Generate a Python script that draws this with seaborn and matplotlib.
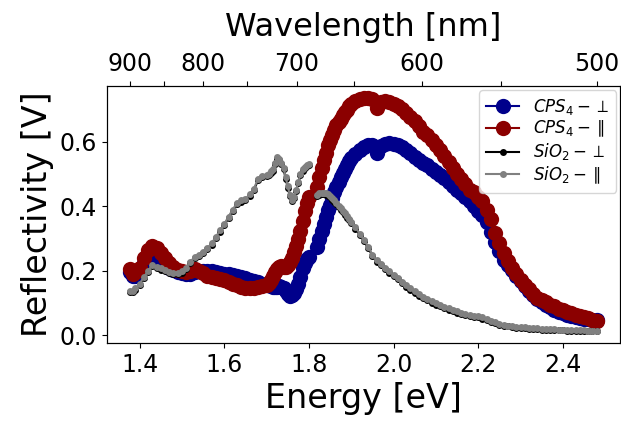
import numpy as np
import pandas as pd
import matplotlib
matplotlib.use("Agg")
import matplotlib.pyplot as plt
import seaborn as sns

# energy grid, split where the detector changes (no data between 1.80 and 1.82 eV)
energy_a = [1.378, 1.385, 1.39,
            1.40, 1.41, 1.42, 1.43, 1.44, 1.45, 1.46, 1.47, 1.48, 1.49,
            1.50, 1.51, 1.52, 1.53, 1.54, 1.55, 1.56, 1.57, 1.58, 1.59,
            1.60, 1.61, 1.62, 1.63, 1.64, 1.65, 1.66, 1.67, 1.68, 1.69, 1.70,
            1.705, 1.71, 1.715, 1.72, 1.725, 1.73, 1.735, 1.74, 1.745, 1.75,
            1.755, 1.76, 1.765, 1.77, 1.775, 1.78, 1.785, 1.79, 1.795, 1.80]
energy_b = [1.82, 1.825, 1.83, 1.835, 1.84, 1.845, 1.85, 1.855, 1.86, 1.865,
            1.87, 1.875, 1.88, 1.885, 1.89, 1.895, 1.90,
            1.91, 1.92, 1.93, 1.94, 1.95, 1.96, 1.97, 1.98, 1.99, 2.00,
            2.01, 2.02, 2.03, 2.04, 2.05, 2.06, 2.07, 2.08, 2.09, 2.10,
            2.11, 2.12, 2.13, 2.14, 2.15, 2.16, 2.17, 2.18, 2.19, 2.20,
            2.21, 2.22, 2.23, 2.24, 2.25, 2.26, 2.27, 2.28, 2.29, 2.30,
            2.31, 2.32, 2.33, 2.34, 2.35, 2.36, 2.37, 2.38, 2.39, 2.40,
            2.41, 2.42, 2.43, 2.44, 2.45, 2.46, 2.47, 2.48]

cps4_perp_a = [0.195, 0.183, 0.185,
               0.2, 0.225, 0.245, 0.255, 0.245, 0.232, 0.22, 0.21, 0.203, 0.196,
               0.192, 0.19, 0.19, 0.195, 0.2, 0.2, 0.198, 0.198, 0.195, 0.192,
               0.19, 0.19, 0.188, 0.185, 0.18, 0.176, 0.172, 0.168, 0.164, 0.16, 0.157,
               0.155, 0.152, 0.148, 0.148, 0.15, 0.152, 0.15, 0.145, 0.137, 0.128,
               0.123, 0.125, 0.132, 0.142, 0.158, 0.18, 0.21, 0.225, 0.235, 0.243]
cps4_perp_b = [0.275, 0.298, 0.322, 0.345, 0.368, 0.388, 0.405, 0.425, 0.443, 0.46,
               0.476, 0.49, 0.503, 0.516, 0.528, 0.54, 0.55,
               0.562, 0.574, 0.584, 0.59, 0.591, 0.565, 0.588, 0.594, 0.596, 0.594,
               0.59, 0.584, 0.576, 0.565, 0.553, 0.543, 0.535, 0.527, 0.517, 0.507,
               0.497, 0.487, 0.476, 0.464, 0.452, 0.44, 0.428, 0.415, 0.4, 0.386,
               0.372, 0.35, 0.32, 0.29, 0.262, 0.233, 0.218, 0.203, 0.185, 0.167,
               0.152, 0.136, 0.124, 0.112, 0.102, 0.094, 0.086, 0.079, 0.073, 0.068,
               0.064, 0.06, 0.057, 0.054, 0.051, 0.049, 0.048, 0.048]

cps4_par_a = [0.205, 0.19, 0.195,
              0.21, 0.24, 0.265, 0.277, 0.27, 0.255, 0.24, 0.225, 0.213, 0.203,
              0.198, 0.196, 0.198, 0.205, 0.2, 0.192, 0.185, 0.18, 0.177, 0.175,
              0.17, 0.165, 0.16, 0.155, 0.15, 0.146, 0.145, 0.147, 0.15, 0.152, 0.156,
              0.162, 0.172, 0.183, 0.195, 0.205, 0.212, 0.214, 0.213, 0.212, 0.218,
              0.228, 0.24, 0.258, 0.278, 0.3, 0.322, 0.355, 0.385, 0.41, 0.428]
cps4_par_b = [0.46, 0.49, 0.518, 0.545, 0.565, 0.59, 0.605, 0.62, 0.638, 0.652,
              0.663, 0.672, 0.682, 0.692, 0.70, 0.71, 0.718,
              0.727, 0.733, 0.737, 0.737, 0.732, 0.706, 0.724, 0.726, 0.723, 0.718,
              0.712, 0.703, 0.69, 0.677, 0.664, 0.648, 0.632, 0.62, 0.607, 0.59,
              0.574, 0.556, 0.538, 0.52, 0.50, 0.485, 0.468, 0.45, 0.443, 0.43,
              0.415, 0.39, 0.36, 0.318, 0.285, 0.255, 0.23, 0.207, 0.19, 0.172,
              0.157, 0.142, 0.128, 0.116, 0.108, 0.102, 0.095, 0.089, 0.082, 0.077,
              0.072, 0.068, 0.064, 0.06, 0.057, 0.053, 0.047, 0.043]

sio2_perp_a = [0.133, 0.134, 0.141,
               0.156, 0.176, 0.196, 0.214, 0.208, 0.203, 0.198, 0.193, 0.189, 0.189,
               0.194, 0.206, 0.224, 0.239, 0.246, 0.254, 0.266, 0.281, 0.301, 0.321,
               0.341, 0.364, 0.386, 0.406, 0.414, 0.419, 0.433, 0.451, 0.481, 0.491, 0.493,
               0.496, 0.504, 0.511, 0.531, 0.548, 0.544, 0.531, 0.516, 0.486, 0.458,
               0.431, 0.416, 0.426, 0.448, 0.471, 0.496, 0.511, 0.518, 0.524, 0.528]
sio2_perp_b = [0.432, 0.436, 0.437, 0.437, 0.436, 0.433, 0.428, 0.421, 0.414, 0.406,
               0.398, 0.39, 0.382, 0.374, 0.365, 0.356, 0.348,
               0.331, 0.311, 0.291, 0.271, 0.246, 0.228, 0.218, 0.206, 0.194, 0.184,
               0.173, 0.162, 0.151, 0.141, 0.132, 0.123, 0.115, 0.108, 0.101, 0.095,
               0.089, 0.084, 0.079, 0.074, 0.07, 0.066, 0.062, 0.059, 0.057, 0.055,
               0.051, 0.046, 0.041, 0.037, 0.033, 0.03, 0.027, 0.025, 0.023, 0.022,
               0.021, 0.02, 0.019, 0.018, 0.017, 0.016, 0.016, 0.015, 0.015, 0.015,
               0.014, 0.014, 0.013, 0.013, 0.013, 0.012, 0.012, 0.012]

sio2_par_a = [0.137, 0.138, 0.145,
              0.16, 0.18, 0.2, 0.218, 0.212, 0.207, 0.202, 0.197, 0.193, 0.193,
              0.198, 0.21, 0.228, 0.243, 0.25, 0.258, 0.27, 0.285, 0.305, 0.325,
              0.345, 0.368, 0.39, 0.41, 0.418, 0.423, 0.437, 0.455, 0.485, 0.495, 0.497,
              0.5, 0.508, 0.515, 0.535, 0.552, 0.548, 0.535, 0.52, 0.49, 0.462,
              0.435, 0.42, 0.43, 0.452, 0.475, 0.5, 0.515, 0.522, 0.528, 0.532]
sio2_par_b = [0.436, 0.44, 0.441, 0.441, 0.44, 0.437, 0.432, 0.425, 0.418, 0.41,
              0.402, 0.394, 0.386, 0.378, 0.369, 0.36, 0.352,
              0.335, 0.315, 0.295, 0.275, 0.25, 0.232, 0.222, 0.21, 0.198, 0.188,
              0.177, 0.166, 0.155, 0.145, 0.136, 0.127, 0.119, 0.112, 0.105, 0.099,
              0.093, 0.088, 0.083, 0.078, 0.074, 0.07, 0.066, 0.063, 0.061, 0.059,
              0.055, 0.05, 0.045, 0.04, 0.036, 0.033, 0.03, 0.028, 0.026, 0.025,
              0.024, 0.023, 0.022, 0.021, 0.02, 0.019, 0.018, 0.018, 0.017, 0.017,
              0.016, 0.016, 0.015, 0.015, 0.015, 0.014, 0.014, 0.014]

wavelength_ticks = [900, 850, 800, 750, 700, 650, 600, 550, 500]
wavelength_labels = ['900', '', '800', '', '700', '', '600', '', '500']

series = [
    (r'$CPS_4-\perp$', cps4_perp_a, cps4_perp_b, 'darkblue', 11),
    (r'$CPS_4-\parallel$', cps4_par_a, cps4_par_b, 'darkred', 11),
    (r'$SiO_2-\perp$', sio2_perp_a, sio2_perp_b, 'black', 5),
    (r'$SiO_2-\parallel$', sio2_par_a, sio2_par_b, 'gray', 5),
]

fig = plt.figure(figsize=(6.21, 4.21), dpi=100)
ax = fig.add_axes([0.1723, 0.1853, 0.8261, 0.6104])

for label, ya, yb, color, ms in series:
    for x, y, lab in ((energy_a, ya, label), (energy_b, yb, '_nolegend_')):
        df = pd.DataFrame({'E': x, 'V': y})
        sns.lineplot(data=df, x='E', y='V', ax=ax, color=color, marker='o',
                     markersize=ms, markeredgecolor=color, markeredgewidth=0,
                     linewidth=1.5, label=lab)

ax.set_xticks([1.4, 1.6, 1.8, 2.0, 2.2, 2.4])
ax.set_yticks([0.0, 0.2, 0.4, 0.6])
ax.tick_params(labelsize=17)
ax.set_xlabel('Energy [eV]', fontsize=24)
ax.set_ylabel('Reflectivity [V]', fontsize=24)
ax.legend(loc='upper right', fontsize=12, labelspacing=0.12, borderaxespad=0.25)

ax2 = ax.twiny()
ax2.set_xlim(ax.get_xlim())
ax2.set_xticks([1239.84 / w for w in wavelength_ticks])
ax2.set_xticklabels(wavelength_labels)
ax2.tick_params(labelsize=17)
ax2.set_xlabel('Wavelength [nm]', fontsize=23, labelpad=12)

fig.savefig('out.png', dpi=100)
